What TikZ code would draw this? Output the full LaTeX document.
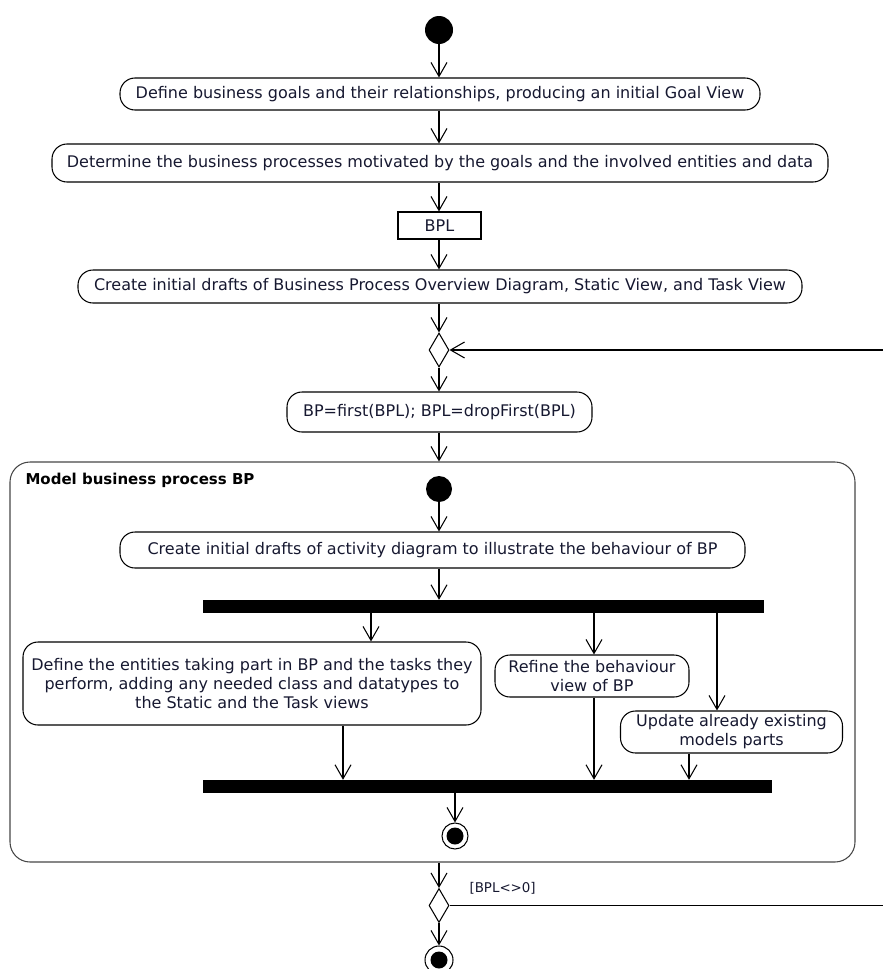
\documentclass[tikz,border=0pt]{standalone}
\usepackage{fontspec}
\setmainfont{DejaVu Sans}
\usetikzlibrary{arrows.meta,shapes.geometric}
\definecolor{ink}{RGB}{22,24,48}
\definecolor{frame}{RGB}{70,70,70}

\begin{document}
\begin{tikzpicture}[x=1pt,y=-1pt,
  lw/.style={line width=1.05pt},
  act/.style={lw, draw, rounded corners=15pt, align=center, text=ink,
    font=\fontsize{16}{19}\selectfont, inner sep=0pt},
  objbox/.style={lw, draw, text=ink, font=\fontsize{16}{19}\selectfont, inner sep=0pt},
  flow/.style={lw, -{Straight Barb[length=14pt,width=16pt,line width=1.05pt]}},
  plain/.style={lw},
  startnode/.style={circle, fill=black, minimum size=28pt, inner sep=0pt},
  endnode/.style={circle, draw, lw, fill=white, minimum size=26pt, inner sep=0pt,
    path picture={\fill[black] (path picture bounding box.center) circle (8.5pt);}},
  decision/.style={diamond, draw, lw, fill=white, minimum width=20pt, minimum height=34pt,
    inner sep=0pt, aspect=0.6},
  bar/.style={fill=black, inner sep=0pt, minimum height=13pt},
  guard/.style={text=ink, font=\fontsize{13.4}{15}\selectfont, anchor=west}
]
\useasboundingbox (0,0) rectangle (883,969);

% main flow
\node[startnode] (start) at (439,30) {};
\node[act, minimum width=640pt, minimum height=32pt] (goals) at (440,94)
  {Define business goals and their relationships, producing an initial Goal View};
\node[act, minimum width=776pt, minimum height=38pt] (procs) at (440,163)
  {Determine the business processes motivated by the goals and the involved entities and data};
\node[objbox, minimum width=83pt, minimum height=27pt] (bpl) at (439.5,225.5) {BPL};
\node[act, minimum width=724pt, minimum height=33pt] (drafts) at (440,286.5)
  {Create initial drafts of Business Process Overview Diagram, Static View, and Task View};
\node[decision] (merge) at (439,350) {};
\node[act, minimum width=305pt, minimum height=40pt] (pick) at (439.5,412)
  {BP=first(BPL); BPL=dropFirst(BPL)};

% sub-activity frame
\node[draw=frame, lw, rounded corners=20pt, minimum width=845pt, minimum height=400pt,
  inner sep=0pt] (sub) at (432.5,662) {};
\node[anchor=west, text=black, font=\fontsize{15}{18}\selectfont\bfseries]
  (subtitle) at (22,480) {Model business process BP};

\node[startnode, minimum size=26pt] (substart) at (439,489) {};
\node[act, minimum width=625pt, minimum height=36pt] (actdiag) at (432.5,550)
  {Create initial drafts of activity diagram to illustrate the behaviour of BP};
\node[bar, minimum width=561pt] (fork) at (483.5,606.5) {};

\node[act, minimum width=458pt, minimum height=83pt] (entities) at (252,683.5)
  {Define the entities taking part in BP and the tasks they\\
   perform, adding any needed class and datatypes to\\
   the Static and the Task views};
\node[act, minimum width=194pt, minimum height=42pt] (refine) at (592,676)
  {Refine the behaviour\\view of BP};
\node[act, minimum width=222pt, minimum height=42pt] (update) at (731.5,732)
  {Update already existing\\models parts};

\node[bar, minimum width=569pt] (join) at (487.5,786.5) {};
\node[endnode] (subend) at (455,836) {};

% after the frame
\node[decision] (check) at (439,905.5) {};
\node[endnode, minimum size=28pt] (finish) at (439,960) {};

% x positions of the parallel branches
\coordinate (xa) at (371,0);
\coordinate (xb) at (594,0);
\coordinate (xc) at (717,0);
\coordinate (xa2) at (343,0);
\coordinate (xc2) at (689,0);
\coordinate (xd) at (439,0);
\coordinate (loopin) at (883,350);
\coordinate (loopout) at (883,905.5);

% connectors
\draw[flow] (start) -- (start |- goals.north);
\draw[flow] (goals.south -| xd) -- (procs.north -| xd);
\draw[flow] (procs.south -| xd) -- (bpl.north -| xd);
\draw[flow] (bpl.south -| xd) -- (drafts.north -| xd);
\draw[flow] (drafts.south -| xd) -- (merge.north);
\draw[flow] (loopin) -- (merge.east);
\draw[flow] (merge.south) -- (pick.north -| xd);
\draw[flow] (pick.south -| xd) -- (sub.north -| xd);

\draw[flow] (substart) -- (substart |- actdiag.north);
\draw[flow] (actdiag.south -| xd) -- (fork.north -| xd);
\draw[flow] (fork.south -| xa) -- (entities.north -| xa);
\draw[flow] (fork.south -| xb) -- (refine.north -| xb);
\draw[flow] (fork.south -| xc) -- (update.north -| xc);
\draw[flow] (entities.south -| xa2) -- (join.north -| xa2);
\draw[flow] (refine.south -| xb) -- (join.north -| xb);
\draw[flow] (update.south -| xc2) -- (join.north -| xc2);
\draw[flow] (join.south -| subend) -- (subend.north);

\draw[flow] (sub.south -| xd) -- (check.north);
\draw[plain] (check.east) -- (loopout);
\node[guard] (guardlbl) at (466,888) {[BPL<>0]};
\draw[flow] (check.south) -- (finish.north);
\end{tikzpicture}
\end{document}
